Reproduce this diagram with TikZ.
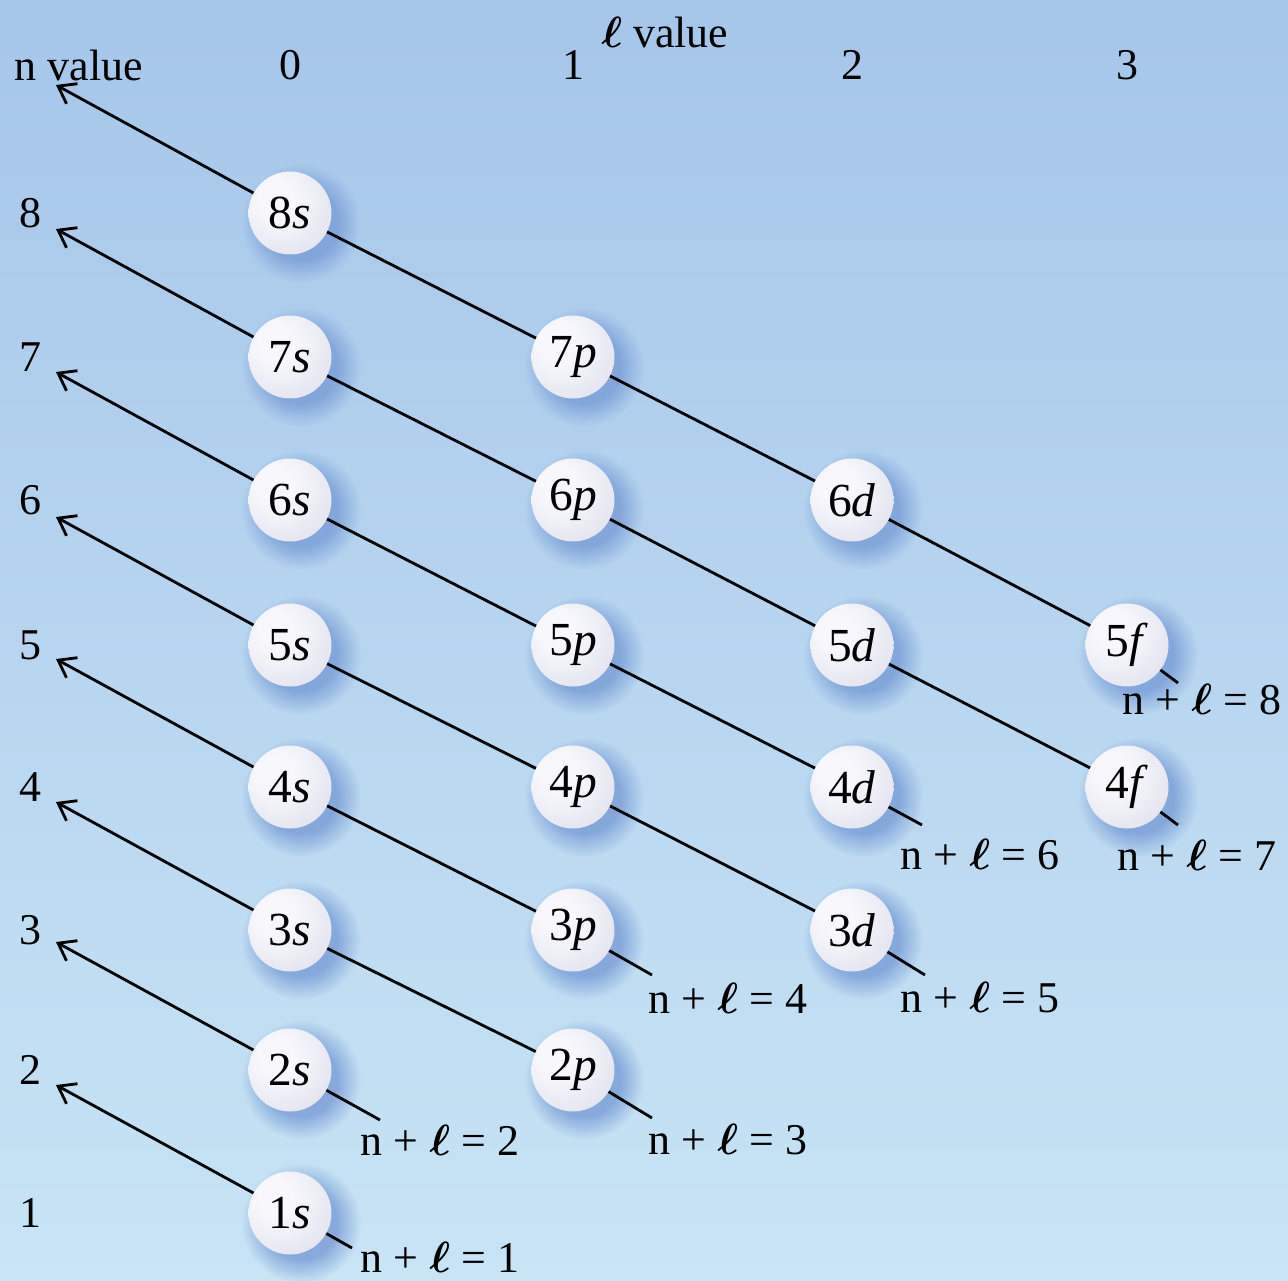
\documentclass[tikz,border=0pt]{standalone}
\usepackage{fontspec}
\setmainfont{Liberation Serif}
\usepackage{bm}
\usetikzlibrary{arrows.meta,fadings}
\definecolor{bgtop}{RGB}{166,198,234}
\definecolor{bgbot}{RGB}{200,228,245}
\definecolor{sphhi}{RGB}{248,248,252}
\definecolor{sphin}{RGB}{234,234,244}
\definecolor{sphmid}{RGB}{218,219,234}
\definecolor{sphedge}{RGB}{200,202,225}
\definecolor{shadowblue}{RGB}{120,156,214}
\pgfdeclareradialshading{sphereshade}{\pgfpoint{-10bp}{10bp}}{color(0bp)=(sphhi); color(10bp)=(sphhi); color(28bp)=(sphin); color(46bp)=(sphmid); color(60bp)=(sphedge); color(100bp)=(sphedge)}
\pgfdeclareradialshading{softshadowshade}{\pgfpointorigin}{color(0pt)=(pgftransparent!0); color(15pt)=(pgftransparent!0); color(25pt)=(pgftransparent!100); color(50pt)=(pgftransparent!100)}
\pgfdeclarefading{softshadow}{\pgfuseshading{softshadowshade}}
\pgfdeclarelayer{bg}
\pgfdeclarelayer{shadowlayer}
\pgfdeclarelayer{linelayer}
\pgfsetlayers{bg,shadowlayer,linelayer,main}
\newcommand{\nlsum}[1]{n + $\bm{\ell}$ = #1}
\begin{document}
\begin{tikzpicture}[x=0.02cm,y=-0.02cm,
  orb/.style={circle,minimum size=1.66cm,inner sep=0pt,shading=sphereshade,font=\fontsize{27}{32}\selectfont},
  lab/.style={font=\fontsize{25}{30}\selectfont,inner sep=0pt},
  conn/.style={line width=1.6pt,black},
  arr/.style={conn,-{Straight Barb[length=9pt,width=13pt]}},
  shad/.style={fill=shadowblue,path fading=softshadow,opacity=0.8}
]
\useasboundingbox (0,0) rectangle (1288,1281);
\begin{pgfonlayer}{bg}
\shade[top color=bgtop,bottom color=bgbot] (0,0) rectangle (1288,1281);
\end{pgfonlayer}

% headers
\node[lab] (hn) at (79,65) {n value};
\node[lab] (hl) at (665,32) {$\bm{\ell}$ value};
\node[lab] (c0) at (290,65) {0};
\node[lab] (c1) at (573,65) {1};
\node[lab] (c2) at (852,65) {2};
\node[lab] (c3) at (1127,65) {3};
\node[lab] (r8) at (30,213) {8};
\node[lab] (r7) at (30,357) {7};
\node[lab] (r6) at (30,500) {6};
\node[lab] (r5) at (30,645) {5};
\node[lab] (r4) at (30,787) {4};
\node[lab] (r3) at (30,930) {3};
\node[lab] (r2) at (30,1070) {2};
\node[lab] (r1) at (30,1213) {1};

% orbitals
\node[orb] (o8s) at (290,213) {8\textit{s}};
\node[orb] (o7s) at (290,357) {7\textit{s}};
\node[orb] (o6s) at (290,500) {6\textit{s}};
\node[orb] (o5s) at (290,645) {5\textit{s}};
\node[orb] (o4s) at (290,787) {4\textit{s}};
\node[orb] (o3s) at (290,930) {3\textit{s}};
\node[orb] (o2s) at (290,1070) {2\textit{s}};
\node[orb] (o1s) at (290,1213) {1\textit{s}};
\node[orb] (o7p) at (573,357) {7\textit{p}};
\node[orb] (o6p) at (573,500) {6\textit{p}};
\node[orb] (o5p) at (573,645) {5\textit{p}};
\node[orb] (o4p) at (573,787) {4\textit{p}};
\node[orb] (o3p) at (573,930) {3\textit{p}};
\node[orb] (o2p) at (573,1070) {2\textit{p}};
\node[orb] (o6d) at (852,500) {6\textit{d}};
\node[orb] (o5d) at (852,645) {5\textit{d}};
\node[orb] (o4d) at (852,787) {4\textit{d}};
\node[orb] (o3d) at (852,930) {3\textit{d}};
\node[orb] (o5f) at (1127,645) {5\textit{f}};
\node[orb] (o4f) at (1127,787) {4\textit{f}};

% shadows
\begin{pgfonlayer}{shadowlayer}
\foreach \o in {o8s,o7s,o6s,o5s,o4s,o3s,o2s,o1s,o7p,o6p,o5p,o4p,o3p,o2p,o6d,o5d,o4d,o3d,o5f,o4f}
  \fill[shad] ([shift={(11,10)}]\o.center) circle (60);
\end{pgfonlayer}

% arrow tips and line ends
\foreach \n/\y in {1/1213,2/1070,3/930,4/787,5/645,6/500,7/357,8/213}
  \coordinate (t\n) at (56,\y-128);
\coordinate (e1) at (352,1248);
\coordinate (e2) at (380,1120);
\coordinate (e3) at (652,1118);
\coordinate (e4) at (652,975);
\coordinate (e5) at (925,975);
\coordinate (e6) at (922,825);
\coordinate (e7) at (1178,825);
\coordinate (e8) at (1178,683);

\begin{pgfonlayer}{linelayer}
\draw[arr] (e1) -- (o1s.center) -- (t1);
\draw[arr] (e2) -- (o2s.center) -- (t2);
\draw[arr] (e3) -- (o2p.center) -- (o3s.center) -- (t3);
\draw[arr] (e4) -- (o3p.center) -- (o4s.center) -- (t4);
\draw[arr] (e5) -- (o3d.center) -- (o4p.center) -- (o5s.center) -- (t5);
\draw[arr] (e6) -- (o4d.center) -- (o5p.center) -- (o6s.center) -- (t6);
\draw[arr] (e7) -- (o4f.center) -- (o5d.center) -- (o6p.center) -- (o7s.center) -- (t7);
\draw[arr] (e8) -- (o5f.center) -- (o6d.center) -- (o7p.center) -- (o8s.center) -- (t8);
\end{pgfonlayer}

% sum labels
\node[lab] (s1) at (440,1257) {\nlsum{1}};
\node[lab] (s2) at (440,1140) {\nlsum{2}};
\node[lab] (s3) at (728,1140) {\nlsum{3}};
\node[lab] (s4) at (728,998) {\nlsum{4}};
\node[lab] (s5) at (980,998) {\nlsum{5}};
\node[lab] (s6) at (980,855) {\nlsum{6}};
\node[lab] (s7) at (1197,855) {\nlsum{7}};
\node[lab] (s8) at (1202,700) {\nlsum{8}};
\end{tikzpicture}
\end{document}
